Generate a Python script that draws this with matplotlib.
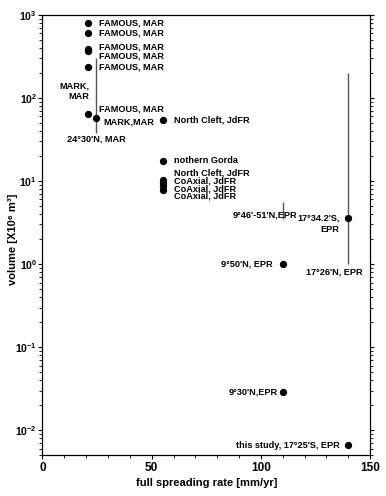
import matplotlib.pyplot as plt
import numpy as np
from matplotlib.ticker import FixedLocator, LogLocator, NullFormatter

plt.rcParams['font.family'] = ['Liberation Sans', 'DejaVu Sans']
plt.rcParams['font.weight'] = 'bold'

# spreading rate [mm/yr] and volume [x10^6 m^3]
rate = [21, 21, 21, 21, 21, 21, 24.5, 55, 55, 55, 55, 55, 55, 110, 110, 140, 140]
volume = [790, 600, 390, 365, 236, 64, 58, 55, 17.5, 10.3, 9.5, 8.7, 7.8,
          1.0, 0.029, 3.6, 0.0066]

# vertical ranges (x, low, high)
range_x = [24.5, 110, 140]
range_lo = [38, 3.5, 1.0]
range_hi = [300, 5.6, 200]

# labels: text, x, y, ha
labels = [
    ("FAMOUS, MAR", 26, 790, "left"),
    ("FAMOUS, MAR", 26, 600, "left"),
    ("FAMOUS, MAR", 26, 405, "left"),
    ("FAMOUS, MAR", 26, 320, "left"),
    ("FAMOUS, MAR", 26, 236, "left"),
    ("FAMOUS, MAR", 26, 74, "left"),
    ("MARK,\nMAR", 21.5, 120, "right"),
    ("MARK,MAR", 28, 51, "left"),
    ("24°30'N, MAR", 24.5, 32, "center"),
    ("North Cleft, JdFR", 60, 54, "left"),
    ("nothern Gorda", 60, 17.5, "left"),
    ("North Cleft, JdFR", 60, 12.6, "left"),
    ("CoAxial, JdFR", 60, 10.0, "left"),
    ("CoAxial, JdFR", 60, 8.1, "left"),
    ("CoAxial, JdFR", 60, 6.6, "left"),
    ("9°46'-51'N,EPR", 116.5, 3.9, "right"),
    ("17°34.2'S,\nEPR", 136, 3.05, "right"),
    ("17°26'N, EPR", 133.5, 0.8, "center"),
    ("9°50'N, EPR", 105.5, 1.0, "right"),
    ("9°30'N,EPR", 107.5, 0.029, "right"),
    ("this study, 17°25'S, EPR", 136, 0.0066, "right"),
]

fig = plt.figure(figsize=(3.86, 4.96), dpi=100)
ax = fig.add_axes([0.110, 0.082, 0.849, 0.888])

ax.vlines(range_x, range_lo, range_hi, color='#555555', lw=1.0)
ax.scatter(rate, volume, s=18, color='black', zorder=3)

for txt, x, y, ha in labels:
    ax.text(x, y, txt, ha=ha, va='center', fontsize=6.6, fontweight='bold',
            linespacing=1.3)

ax.set_yscale('log')
ax.set_xlim(0, 150)
ax.set_ylim(0.005, 1000)

ax.xaxis.set_major_locator(FixedLocator([0, 50, 100, 150]))
ax.xaxis.set_minor_locator(FixedLocator(np.arange(0, 151, 10)))
ax.yaxis.set_major_locator(LogLocator(base=10, numticks=10))
ax.yaxis.set_minor_locator(LogLocator(base=10, subs=np.arange(2, 10), numticks=10))
ax.yaxis.set_minor_formatter(NullFormatter())

ax.tick_params(axis='both', which='major', direction='out', length=3, width=0.8)
ax.tick_params(axis='both', which='minor', direction='out', length=2, width=0.6)
ax.tick_params(axis='y', right=True, which='both')
ax.tick_params(axis='x', pad=2, labelsize=8.5)
ax.tick_params(axis='y', pad=1, labelsize=7.5)
for lab in ax.get_xticklabels() + ax.get_yticklabels():
    lab.set_fontweight('bold')

for sp in ax.spines.values():
    sp.set_linewidth(0.9)

ax.set_xlabel('full spreading rate [mm/yr]', fontsize=8, fontweight='bold',
              labelpad=3)
ax.set_ylabel('volume [X10⁶ m³]', fontsize=8, fontweight='bold')
ax.yaxis.set_label_coords(-0.075, 0.49)

fig.savefig('out.png', dpi=100)
